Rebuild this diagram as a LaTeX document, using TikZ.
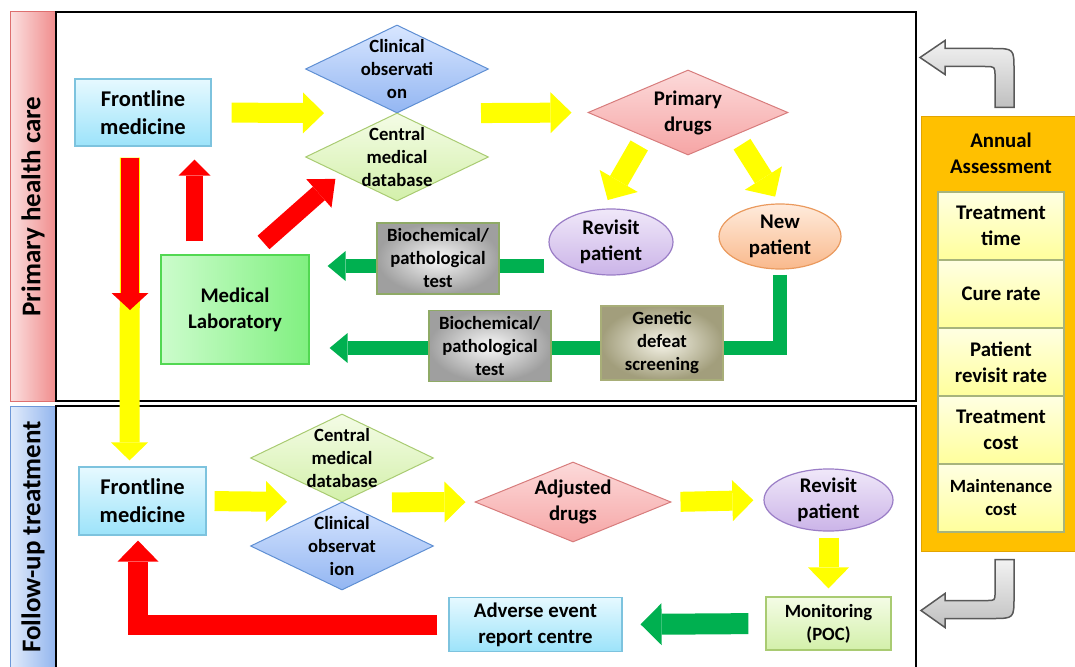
\documentclass[tikz,border=0pt]{standalone}
\usepackage{fontspec}
\setmainfont{Carlito}
\usetikzlibrary{shapes.geometric, arrows.meta, backgrounds}

\definecolor{cyanlt}{HTML}{E6F9FF}
\definecolor{cyandk}{HTML}{9CE3FA}
\definecolor{cyanln}{HTML}{7DC3DE}
\definecolor{bluelt}{HTML}{D8E6FF}
\definecolor{bluedk}{HTML}{93B6F2}
\definecolor{blueln}{HTML}{5F8FD3}
\definecolor{greenlt}{HTML}{F4FCE6}
\definecolor{greendk}{HTML}{D3F0AA}
\definecolor{greenln}{HTML}{A9CB72}
\definecolor{redlt}{HTML}{FCDADA}
\definecolor{reddk}{HTML}{F6A5A5}
\definecolor{redln}{HTML}{D77C7C}
\definecolor{purplelt}{HTML}{F0E8F9}
\definecolor{purpledk}{HTML}{CBB4E8}
\definecolor{purpleln}{HTML}{9A7DC6}
\definecolor{orangelt}{HTML}{FFEBDC}
\definecolor{orangedk}{HTML}{F9B98C}
\definecolor{orangeln}{HTML}{EA9A5E}
\definecolor{labtl}{HTML}{CCFCCC}
\definecolor{labdk}{HTML}{80F080}
\definecolor{labln}{HTML}{52D852}
\definecolor{olivln}{HTML}{8FAA66}
\definecolor{khakidk}{HTML}{A29E7C}
\definecolor{khakilt}{HTML}{F6F4E8}
\definecolor{khakiln}{HTML}{A8AE78}
\definecolor{amber}{HTML}{FFC000}
\definecolor{amberln}{HTML}{E3A400}
\definecolor{celllt}{HTML}{FFFFE2}
\definecolor{celldk}{HTML}{FFFF9C}
\definecolor{cellln}{HTML}{A7B47C}
\definecolor{pinklt}{HTML}{FBE0E0}
\definecolor{pinkdk}{HTML}{F08C8C}
\definecolor{pinkln}{HTML}{DE6F6F}
\definecolor{sidelt}{HTML}{E2ECFB}
\definecolor{sidedk}{HTML}{92B5EE}
\definecolor{sideln}{HTML}{6C97D8}
\definecolor{arrowyellow}{HTML}{FFFF00}
\definecolor{arrowred}{HTML}{FF0000}
\definecolor{arrowgreen}{HTML}{00B050}

\newcommand{\fbig}{\fontsize{22.5pt}{28pt}\selectfont\bfseries}
\newcommand{\fmid}{\fontsize{20.8pt}{26pt}\selectfont\bfseries}
\newcommand{\fsml}{\fontsize{18.7pt}{23pt}\selectfont\bfseries}
\newcommand{\fside}{\fontsize{27pt}{32pt}\selectfont\bfseries}

\tikzstyle{pinkbar} = [rectangle, minimum width=46pt, draw=pinkln, line width=1pt, left color=pinklt, right color=pinkdk]
\tikzstyle{bluebar} = [rectangle, minimum width=46pt, draw=sideln, line width=1pt, left color=sidelt, right color=sidedk]
\tikzstyle{sidetext} = [rotate=90, font=\fside, inner sep=0pt]
\tikzstyle{panel} = [draw=black, line width=2.8pt]
\tikzstyle{cyanbox} = [rectangle, minimum width=136pt, minimum height=67pt, inner sep=2pt, align=center, font=\fbig, draw=cyanln, line width=1.2pt, top color=cyanlt, bottom color=cyandk]
\tikzstyle{bluediamond} = [diamond, aspect=2.1, minimum width=183pt, minimum height=88pt, inner sep=-8pt, align=center, font=\fsml, draw=blueln, line width=1pt, top color=bluelt, bottom color=bluedk]
\tikzstyle{greendiamond} = [diamond, aspect=2.1, minimum width=183pt, minimum height=88pt, inner sep=-8pt, align=center, font=\fsml, draw=greenln, line width=1pt, top color=greenlt, bottom color=greendk]
\tikzstyle{reddiamond} = [diamond, aspect=2.35, minimum width=200pt, minimum height=85pt, inner sep=-2pt, align=center, font=\fmid, draw=redln, line width=1pt, top color=redlt, bottom color=reddk]
\tikzstyle{purpleoval} = [ellipse, minimum width=124pt, minimum height=66pt, inner sep=0pt, align=center, font=\fmid, draw=purpleln, line width=1.2pt, top color=purplelt, bottom color=purpledk]
\tikzstyle{orangeoval} = [ellipse, minimum width=122pt, minimum height=65pt, inner sep=0pt, align=center, font=\fmid, draw=orangeln, line width=1.2pt, top color=orangelt, bottom color=orangedk]
\tikzstyle{graybox} = [rectangle, minimum width=122pt, minimum height=71pt, inner sep=2pt, align=center, font=\fsml, draw=olivln, line width=1.5pt, inner color=gray!5, outer color=gray!75]
\tikzstyle{khakibox} = [rectangle, minimum width=122pt, minimum height=74pt, inner sep=2pt, align=center, font=\fsml, draw=khakiln, line width=1.5pt, inner color=khakilt, outer color=khakidk]
\tikzstyle{labbox} = [rectangle, minimum width=148pt, minimum height=109pt, align=center, font=\fmid, draw=labln, line width=1.2pt, left color=labtl, right color=labdk]
\tikzstyle{mintbox} = [rectangle, minimum width=125pt, minimum height=53pt, inner sep=2pt, align=center, font=\fsml, draw=greenln, line width=1.2pt, top color=greenlt, bottom color=greendk]
\tikzstyle{amberbox} = [rectangle, minimum width=160pt, minimum height=434pt, fill=amber, draw=amberln, line width=1pt]
\tikzstyle{cellbox} = [rectangle, minimum width=126pt, minimum height=68pt, inner sep=2pt, align=center, font=\fmid, draw=cellln, line width=1.2pt, top color=celllt, bottom color=celldk, node distance=68pt]
\tikzstyle{yarrow} = [line width=20pt, color=arrowyellow, -{Triangle[length=21pt, width=41pt, line width=0pt]}]
\tikzstyle{rarrow} = [line width=18pt, color=arrowred, -{Triangle[length=17pt, width=37pt, line width=0pt]}]
\tikzstyle{garrow} = [line width=14pt, color=arrowgreen, -{Triangle[length=18pt, width=30pt, line width=0pt]}]
\tikzstyle{grayarrow} = [draw=gray!70!black, line width=1.5pt, top color=gray!10, bottom color=gray!50]

\begin{document}
\begin{tikzpicture}[x=1pt, y=-1pt, node distance=88pt]
\useasboundingbox (0,0) rectangle (1075,666);

% side bars and panels
\node (phc) [pinkbar, minimum height=389pt, label={[sidetext]center:Primary health care}] at (33,206.5) {};
\node (fut) [bluebar, minimum height=262pt, label={[sidetext]center:Follow-up treatment}] at (33,537) {};
\draw[panel] (56,12) rectangle (916,401);
\draw[panel] (56,406) rectangle (916,672);

% primary health care
\node (fm1) [cyanbox] at (143,112.5) {Frontline\\medicine};
\node (co1) [bluediamond] at (397,69) {Clinical\\observati\\on};
\node (cmd1) [greendiamond, below of=co1] {Central\\medical\\database};
\node (pd1) [reddiamond] at (688,112.5) {Primary\\drugs};
\node (rp1) [purpleoval] at (611,242) {Revisit\\patient};
\node (np1) [orangeoval] at (780,236.5) {New\\patient};
\node (bt1) [graybox] at (438,258.5) {Biochemical/\\pathological\\test};
\node (bt2) [graybox] at (490,346) {Biochemical/\\pathological\\test};
\node (gd1) [khakibox] at (662,343) {Genetic\\defeat\\screening};
\node (ml1) [labbox] at (235,309.5) {Medical\\Laboratory};

% follow-up treatment
\node (fm2) [cyanbox, minimum width=127pt, minimum height=68pt] at (142.5,501) {Frontline\\medicine};
\node (cmd2) [greendiamond] at (342,458) {Central\\medical\\database};
\node (co2) [bluediamond, below of=cmd2] {Clinical\\observat\\ion};
\node (ad1) [reddiamond, minimum width=196pt, minimum height=80pt, aspect=2.45] at (573,502) {Adjusted\\drugs};
\node (rv2) [purpleoval, minimum width=129pt, minimum height=60pt] at (828.5,500) {Revisit\\patient};
\node (mo1) [mintbox] at (828.5,623.5) {Monitoring\\(POC)};
\node (ae1) [cyanbox, font=\fmid, minimum width=173pt, minimum height=54pt] at (535.5,624.5) {Adverse event\\report centre};

% annual assessment
\node (aa) [amberbox] at (1001,334) {};
\node (aat) [font=\fmid, align=center, anchor=north, inner sep=0pt] at ([yshift=-16pt]aa.north) {Annual\\Assessment};
\node (c1) [cellbox] at (1001,226) {Treatment\\time};
\node (c2) [cellbox, below of=c1] {Cure rate};
\node (c3) [cellbox, below of=c2] {Patient\\revisit rate};
\node (c4) [cellbox, below of=c3] {Treatment\\cost};
\node (c5) [cellbox, below of=c4, font=\fsml] {Maintenance\\cost};

\draw[grayarrow] ([xshift=-6pt, yshift=9pt]aa.north) -- ++(0,-31) .. controls +(0,-10) .. ++(-10,-10) -- ++(-40,0) -- ++(0,8) -- ++(-25,-17) -- ++(25,-17) -- ++(0,8) -- ++(47,0) .. controls +(22,0) .. ++(22,22) -- ++(0,37) -- cycle;
\draw[grayarrow] ([xshift=-6pt, yshift=-8pt]aa.south) -- ++(0,33) .. controls +(0,8) .. ++(-8,8) -- ++(-42,0) -- ++(0,-7) -- ++(-24,17) -- ++(24,17) -- ++(0,-9) -- ++(47,0) .. controls +(22,0) .. ++(22,-22) -- ++(0,-37) -- cycle;

% connectors, top panel
\coordinate (rdown) at (130,310);
\draw[yarrow, shorten <=20pt, shorten >=73pt] (fm1.east) -- (co1.south);
\draw[yarrow, shorten <=84pt, shorten >=16pt] (co1.south) -- (pd1.west);
\draw[yarrow, shorten <=10pt, shorten >=10pt, -{Triangle[length=22pt, width=44pt, line width=0pt]}] (pd1.-151) -- (rp1.104);
\draw[yarrow, shorten <=11pt, shorten >=8pt, -{Triangle[length=22pt, width=44pt, line width=0pt]}] (pd1.-25) -- (np1.91);
\draw[yarrow, shorten <=11pt, shorten >=6pt, -{Triangle[length=18pt, width=37pt, line width=0pt]}] ([xshift=-13pt]fm1.south) -- ([xshift=-13pt]fm2.north);
\draw[rarrow, shorten <=11pt] ([xshift=-13pt]fm1.south) -- (rdown);
\draw[rarrow, line width=17pt, -{Triangle[length=16pt, width=32pt, line width=0pt]}, shorten <=13pt, shorten >=13pt] ([xshift=-40.5pt]ml1.north) -- ([xshift=51.5pt]fm1.south);
\draw[rarrow, -{Triangle[length=22pt, width=38pt, line width=0pt]}, shorten <=18pt, shorten >=7pt] ([xshift=15pt]ml1.north) -- (cmd1.197);
\begin{scope}[on background layer]
\draw[garrow] ([xshift=-4pt, yshift=-24pt]rp1.west) -- ([xshift=18pt, yshift=43.5pt]ml1.east);
\draw[garrow, shorten <=5pt] (np1.south) |- ([xshift=20pt, yshift=-38.5pt]ml1.east);
\end{scope}

% connectors, bottom panel
\draw[yarrow, shorten <=8pt, shorten >=55pt] (fm2.east) -- (cmd2.south);
\draw[yarrow, shorten <=50pt, shorten >=9pt] (cmd2.south) -- (ad1.west);
\draw[yarrow, shorten <=9pt, shorten >=10pt] (ad1.east) -- (rv2.west);
\draw[yarrow, shorten <=6pt, shorten >=8pt] (rv2.south) -- (mo1.north);
\draw[garrow, line width=21pt, -{Triangle[length=21pt, width=42pt, line width=0pt]}, shorten <=17pt, shorten >=18pt] (mo1.west) -- (ae1.east);
\draw[rarrow, line width=20pt, -{Triangle[length=21pt, width=41pt, line width=0pt]}, shorten <=11pt, shorten >=5pt] (ae1.west) -| ([xshift=-4.5pt]fm2.south);

\end{tikzpicture}
\end{document}
